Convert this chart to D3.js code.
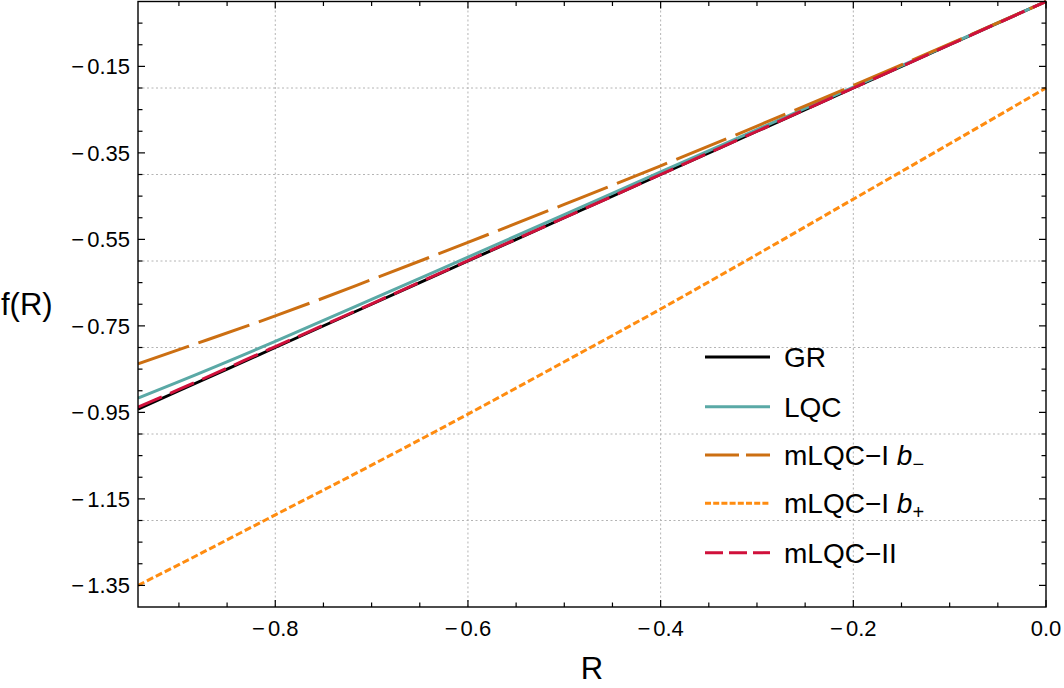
<!DOCTYPE html>
<html><head><meta charset="utf-8">
<script src="https://cdn.jsdelivr.net/npm/d3@7"></script>
<style>
html,body{margin:0;padding:0;background:#fff;}
svg{display:block;font-family:"Liberation Sans",Arial,sans-serif;}
</style></head>
<body>
<svg id="chart" width="1064" height="688"></svg>
<script>
// ---- data ----
const R = [-0.9425, -0.9, -0.8, -0.7, -0.6, -0.5, -0.4, -0.3, -0.2, -0.1, 0];
const fGR = [-0.9425, -0.9, -0.8, -0.7, -0.6, -0.5, -0.4, -0.3, -0.2, -0.1, 0];
const fLQC = [-0.917, -0.879, -0.786, -0.689, -0.591, -0.493, -0.394, -0.296, -0.198, -0.099, 0];
const fBminus = [-0.838, -0.805, -0.727, -0.643, -0.557, -0.469, -0.380, -0.288, -0.194, -0.098, 0];
const fBplus = [-1.350, -1.302, -1.187, -1.072, -0.954, -0.833, -0.711, -0.585, -0.457, -0.329, -0.200];
const fII = [-0.938, -0.897, -0.798, -0.699, -0.599, -0.500, -0.400, -0.300, -0.200, -0.100, 0];
const seriesNames = ["GR", "LQC", "mLQC\u2212I b\u2212", "mLQC\u2212I b+", "mLQC\u2212II"];
const xTickLabels = ["\u22120.8", "\u22120.6", "\u22120.4", "\u22120.2", "0.0"];
const xTickValues = [-0.8, -0.6, -0.4, -0.2, 0];
const yTickLabels = ["\u22120.15", "\u22120.35", "\u22120.55", "\u22120.75", "\u22120.95", "\u22121.15", "\u22121.35"];
const yTickValues = [-0.15, -0.35, -0.55, -0.75, -0.95, -1.15, -1.35];
const xGrid = [-0.8, -0.6, -0.4, -0.2];
const yGrid = [-0.2, -0.4, -0.6, -0.8, -1.0, -1.2];

// ---- styles ----
const styles = [
  {color: "#000000", dash: null, legendDash: null},
  {color: "#5aa9a6", dash: null, legendDash: null},
  {color: "#cc6f12", dash: "54,10", legendDash: "34,7"},
  {color: "#ff8c10", dash: "7,3", legendDash: "6,2.2"},
  {color: "#d0103b", dash: "26,9", legendDash: "18,6"}
];
const series = [fGR, fLQC, fBminus, fBplus, fII];

const svg = d3.select("#chart");
const L = 138, Rt = 1046, T = 1.5, B = 607;
const x = d3.scaleLinear().domain([-0.3 * Math.PI, 0]).range([L, Rt]);
const y = d3.scaleLinear().domain([-1.4, 0]).range([B, T]);

// grid
const grid = svg.append("g").attr("stroke", "#b4b4b4").attr("stroke-width", 1).attr("stroke-dasharray", "2,2.5");
grid.selectAll(".gx").data(xGrid).enter().append("line")
  .attr("x1", d => x(d)).attr("x2", d => x(d)).attr("y1", T).attr("y2", B);
grid.selectAll(".gy").data(yGrid).enter().append("line")
  .attr("x1", L).attr("x2", Rt).attr("y1", d => y(d)).attr("y2", d => y(d));

// curves
const line = d3.line().x((d, i) => x(R[i])).y(d => y(d)).curve(d3.curveMonotoneX);
const clip = svg.append("clipPath").attr("id", "clip").append("rect")
  .attr("x", L).attr("y", T - 2).attr("width", Rt - L + 2).attr("height", B - T + 2);
const curves = svg.append("g").attr("clip-path", "url(#clip)");
series.forEach((s, k) => {
  curves.append("path").attr("d", line(s)).attr("fill", "none")
    .attr("stroke", styles[k].color).attr("stroke-width", 3)
    .attr("stroke-dasharray", styles[k].dash);
});

// frame and ticks
const minorX = d3.range(-0.9, 0.001, 0.05).map(v => +v.toFixed(2));
const minorY = d3.range(-1.4, 0.001, 0.05).map(v => +v.toFixed(2)).filter(v => v < 0 && v > -1.4);
const isMajX = v => xTickValues.some(t => Math.abs(t - v) < 1e-6);
const isMajY = v => yTickValues.some(t => Math.abs(t - v) < 1e-6);

const ax = svg.append("g").attr("stroke", "#000");
ax.append("rect").attr("x", L).attr("y", T).attr("width", Rt - L).attr("height", B - T)
  .attr("fill", "none").attr("stroke-width", 1.4);
minorX.forEach(v => {
  const len = isMajX(v) ? 7 : 4.5;
  ax.append("line").attr("x1", x(v)).attr("x2", x(v)).attr("y1", B).attr("y2", B - len).attr("stroke-width", 1.2);
  ax.append("line").attr("x1", x(v)).attr("x2", x(v)).attr("y1", T).attr("y2", T + len).attr("stroke-width", 1.2);
});
minorY.forEach(v => {
  const len = isMajY(v) ? 7 : 4.5;
  ax.append("line").attr("y1", y(v)).attr("y2", y(v)).attr("x1", L).attr("x2", L + len).attr("stroke-width", 1.2);
  ax.append("line").attr("y1", y(v)).attr("y2", y(v)).attr("x1", Rt).attr("x2", Rt - len).attr("stroke-width", 1.2);
});

// tick labels (minus sign followed by a small gap, as in the reference)
function tickText(sel, label) {
  if (label.startsWith("\u2212")) {
    sel.append("tspan").text("\u2212");
    sel.append("tspan").attr("dx", 3).text(label.slice(1));
  } else {
    sel.text(label);
  }
}
svg.append("g").selectAll("text").data(xTickValues).enter().append("text")
  .attr("x", d => x(d)).attr("y", 636).attr("text-anchor", "middle")
  .attr("font-size", 22).attr("fill", "#000")
  .each(function (d, i) { tickText(d3.select(this), xTickLabels[i]); });
svg.append("g").selectAll("text").data(yTickValues).enter().append("text")
  .attr("x", 130).attr("y", d => y(d) + 7.8).attr("text-anchor", "end")
  .attr("font-size", 22).attr("fill", "#000")
  .each(function (d, i) { tickText(d3.select(this), yTickLabels[i]); });

// axis titles
svg.append("text").attr("x", (L + Rt) / 2).attr("y", 679).attr("text-anchor", "middle")
  .attr("font-size", 31).text("R");
svg.append("text").attr("x", 1).attr("y", 315).attr("font-size", 31).text("f(R)");

// legend
const legY = [357, 406.7, 455, 503.3, 552.7];
const leg = svg.append("g");
seriesNames.forEach((name, k) => {
  leg.append("line").attr("x1", 705).attr("x2", 770).attr("y1", legY[k]).attr("y2", legY[k])
    .attr("stroke", styles[k].color).attr("stroke-width", 3).attr("stroke-dasharray", styles[k].legendDash);
  const t = leg.append("text").attr("x", 784).attr("y", legY[k] + 10).attr("font-size", 28).attr("fill", "#000");
  const m = name.match(/^(.*) b(.)$/);
  if (m) {
    t.append("tspan").text(m[1] + " ");
    t.append("tspan").attr("font-style", "italic").text("b");
    t.append("tspan").attr("font-size", 20).attr("dy", 6).text(m[2] === "+" ? "+" : "\u2212");
  } else {
    t.text(name);
  }
});
</script>
</body></html>
